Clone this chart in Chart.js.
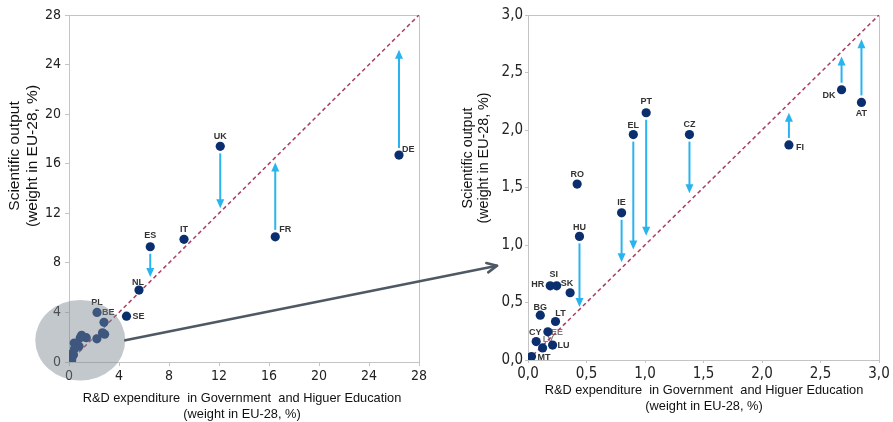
<!DOCTYPE html>
<html><head><meta charset="utf-8">
<script src="https://cdn.jsdelivr.net/npm/chart.js@4"></script>
<style>
html,body{margin:0;padding:0;background:#fff;}
#wrap{position:relative;width:893px;height:422px;overflow:hidden;}
canvas{position:absolute;left:0;top:0;}
</style></head><body>
<div id="wrap"><canvas id="left" width="893" height="422"></canvas><canvas id="right" width="893" height="422"></canvas></div>
<script>
// ---- data ----
const countries = ['DE','UK','FR','IT','ES','NL','SE','PL','BE','AT','DK','FI','CZ','PT','EL','RO','IE','HU','SK','SI','HR','BG','LT','EE','CY','LU','LV','MT'];
const rdShare  = [26.4,12.1,16.5,9.2,6.5,5.6,4.6,2.24,2.8, 2.85,2.68,2.23,1.38,1.01,0.90,0.42,0.80,0.44,0.36,0.245,0.19,0.105,0.235,0.17,0.07,0.21,0.125,0.03];
const sciShare = [16.7,17.4,10.1,9.9,9.3,5.8,3.7,4.0,3.2, 2.24,2.35,1.87,1.96,2.15,1.96,1.53,1.28,1.075,0.585,0.645,0.645,0.39,0.335,0.245,0.16,0.13,0.105,0.03];
const arrowTo  = [25.2,12.4,16.1,null,6.85,null,null,null,null, 2.79,2.64,2.15,1.45,1.08,0.96,null,0.85,0.46,null,null,null,null,null,null,null,null,null,null];
const leftTicks = [0,4,8,12,16,20,24,28];
const rightTicks = [0,0.5,1,1.5,2,2.5,3];
const rightTickLabels = ['0,0','0,5','1,0','1,5','2,0','2,5','3,0'];
const yTitle = ['Scientific output','(weight in EU-28, %)'];
const xTitle = ['R&D expenditure  in Government  and Higuer Education','(weight in EU-28, %)'];

// ---- styles ----
const NAVY='#0b2f6e', ARROW='#2ab4ef', DIAG='#a83e62', FRAME='#c4c4c4';
const narrow = "'Liberation Sans Narrow','Arial Narrow','DejaVu Sans Condensed',sans-serif";
const sans = "'Liberation Sans',Arial,sans-serif";
const labelPlace = {
  DE:{dx:3,dy:-6,al:'left'}, UK:{dx:0,dy:-10,al:'center'}, FR:{dx:4,dy:-7,al:'left'},
  IT:{dx:0,dy:-10,al:'center'}, ES:{dx:0,dy:-11,al:'center'}, NL:{dx:-1,dy:-8,al:'center'},
  SE:{dx:6,dy:0,al:'left'}, PL:{dx:0,dy:-10,al:'center'}, BE:{dx:-2,dy:-10,al:'left'},
  RO:{dx:0,dy:-10,al:'center'}, EL:{dx:0,dy:-9,al:'center'}, PT:{dx:0,dy:-11,al:'center'},
  CZ:{dx:0,dy:-10,al:'center'}, FI:{dx:7,dy:3,al:'left'}, DK:{dx:-6,dy:6,al:'right'},
  AT:{dx:0,dy:11,al:'center'}, IE:{dx:0,dy:-10,al:'center'}, HU:{dx:0,dy:-9,al:'center'},
  HR:{dx:-6,dy:-1,al:'right'}, SI:{dx:-3,dy:-11,al:'center'}, SK:{dx:-3,dy:-9,al:'center'},
  BG:{dx:0,dy:-8,al:'center'}, LT:{dx:5,dy:-8,al:'center'}, EE:{dx:3,dy:1,al:'left',c:'#7d7d7d'},
  CY:{dx:-1,dy:-9,al:'center'}, LV:{dx:0,dy:-8,al:'left',c:'#7d7d7d'}, LU:{dx:5,dy:0,al:'left'},
  MT:{dx:6,dy:1,al:'left'}
};

const allIdx = countries.map((_,i)=>i);
const insetIdx = allIdx.filter(i=>rdShare[i]<=3 && sciShare[i]<=3);
const bigIdx = allIdx.filter(i=>!insetIdx.includes(i));
const toPts = idx => idx.map(i=>({x:rdShare[i], y:sciShare[i], c:countries[i], a:arrowTo[i]}));

function drawArrow(ctx, x, y0, y1){
  const dir = y1 < y0 ? -1 : 1;
  ctx.save();
  ctx.strokeStyle=ARROW; ctx.fillStyle=ARROW; ctx.lineWidth=2;
  ctx.beginPath(); ctx.moveTo(x, y0+dir*7); ctx.lineTo(x, y1-dir*6); ctx.stroke();
  ctx.beginPath(); ctx.moveTo(x,y1); ctx.lineTo(x-4,y1-dir*9); ctx.lineTo(x+4,y1-dir*9); ctx.closePath(); ctx.fill();
  ctx.restore();
}

function makePlugin(opts){
  return {
    id:'deco'+opts.name,
    beforeDatasetsDraw(chart){
      const {ctx, chartArea:a, scales:{x,y}} = chart;
      ctx.save();
      ctx.strokeStyle=FRAME; ctx.lineWidth=1;
      ctx.beginPath();
      ctx.moveTo(a.left, a.top+0.5); ctx.lineTo(a.right+0.5, a.top+0.5); ctx.lineTo(a.right+0.5, a.bottom);
      ctx.stroke();
      ctx.restore();
      const pts = chart.data.datasets[0].data;
      ctx.save();
      ctx.font = "bold 9px "+sans;
      ctx.textBaseline='middle';
      pts.forEach(p=>{
        const L = labelPlace[p.c];
        if(!L || !opts.show.has(p.c)) return;
        ctx.fillStyle = L.c || '#333';
        ctx.textAlign = L.al;
        ctx.fillText(p.c, x.getPixelForValue(p.x)+L.dx, y.getPixelForValue(p.y)+L.dy);
      });
      ctx.restore();
      pts.forEach(p=>{
        if(p.a==null || !opts.show.has(p.c)) return;
        drawArrow(ctx, x.getPixelForValue(p.x), y.getPixelForValue(p.y), y.getPixelForValue(p.a));
      });
    },
    afterDraw(chart){
      const ctx = chart.ctx;
      ctx.save();
      ctx.fillStyle='#111';
      ctx.textAlign='center'; ctx.textBaseline='middle';
      ctx.font = opts.yFont+"px "+sans;
      ctx.save();
      ctx.translate(opts.yT[0], opts.yT[2]); ctx.rotate(-Math.PI/2);
      ctx.fillText(yTitle[0],0,0);
      ctx.restore();
      ctx.save();
      ctx.translate(opts.yT[1], opts.yT[2]); ctx.rotate(-Math.PI/2);
      ctx.fillText(yTitle[1],0,0);
      ctx.restore();
      ctx.font = "12.8px "+sans;
      ctx.fillText(xTitle[0], opts.xT[0], opts.xT[1]);
      ctx.fillText(xTitle[1], opts.xT[0], opts.xT[2]);
      ctx.restore();
      if(opts.after) opts.after(chart);
    }
  };
}

function axis(kind, ticks, labels, fontSize, fit, pad, tl){
  return {
    type:'linear', min:ticks[0], max:ticks[ticks.length-1],
    afterBuildTicks:s=>{ s.ticks = ticks.map(v=>({value:v})); },
    ticks:{ font:{family:narrow,size:fontSize}, color:'#222', padding:pad,
      callback:v=>{ const k=ticks.indexOf(v); return k<0?'':labels[k]; } },
    grid:{ drawOnChartArea:false, drawTicks:true, tickLength:tl, color:FRAME },
    border:{ color:FRAME },
    afterFit: kind==='x' ? (s=>{s.height=fit;}) : (s=>{s.width=fit;})
  };
}

function baseDatasets(idx, maxV){
  return [
    { data: toPts(idx), backgroundColor:NAVY, borderWidth:0, pointRadius:4.6, pointHoverRadius:4.6 },
    { data:[{x:0,y:0},{x:maxV,y:maxV}], showLine:true, borderColor:DIAG, borderWidth:1.5, borderDash:[4,3], pointRadius:0, fill:false }
  ];
}

const common = { responsive:false, animation:false, devicePixelRatio:1,
  plugins:{legend:{display:false}, tooltip:{enabled:false}}, events:[] };

// ---- left chart ----
const ellipse = {cx:0.9, cy:1.75, rx:3.6, ry:3.25};
const leftChart = new Chart(document.getElementById('left'), {
  type:'scatter',
  data:{ datasets: baseDatasets(allIdx, 28) },
  options:{ ...common,
    layout:{padding:{left:0,right:474,top:15,bottom:0}},
    scales:{
      x: axis('x', leftTicks, leftTicks.map(String), 14, 60, 2, 4),
      y: axis('y', leftTicks, leftTicks.map(String), 14, 69, 4, 4)
    }
  },
  plugins:[makePlugin({name:'L', show:new Set(bigIdx.map(i=>countries[i])), yFont:15.5, yT:[15,33,156], xT:[242,398,414],
    after(chart){
      const {ctx, scales:{x,y}} = chart;
      const cx=x.getPixelForValue(ellipse.cx), cy=y.getPixelForValue(ellipse.cy);
      const rx=x.getPixelForValue(ellipse.rx)-x.getPixelForValue(0), ry=y.getPixelForValue(0)-y.getPixelForValue(ellipse.ry);
      ctx.save();
      ctx.fillStyle='rgba(125,136,146,0.46)';
      ctx.beginPath(); ctx.ellipse(cx,cy,rx,ry,0,0,Math.PI*2); ctx.fill();
      ctx.restore();
    }})]
});

// ---- right chart ----
const rightChart = new Chart(document.getElementById('right'), {
  type:'scatter',
  data:{ datasets: baseDatasets(insetIdx, 3) },
  options:{ ...common,
    layout:{padding:{left:0,right:14,top:15,bottom:0}},
    scales:{
      x: axis('x', rightTicks, rightTickLabels, 15, 62, 2, 3),
      y: axis('y', rightTicks, rightTickLabels, 15, 528, 2, 3)
    }
  },
  plugins:[makePlugin({name:'R', show:new Set(insetIdx.map(i=>countries[i])), yFont:14.3, yT:[468,484,158], xT:[704,390,406],
    after(chart){
      const {ctx, chartArea:a, scales:{y}} = chart;
      const lx = leftChart.scales.x, ly = leftChart.scales.y;
      const sx = lx.getPixelForValue(ellipse.cx+ellipse.rx), sy = ly.getPixelForValue(ellipse.cy);
      const ex = a.left-31, ey = y.getPixelForValue(0.82);
      const ang = Math.atan2(ey-sy, ex-sx);
      ctx.save();
      ctx.strokeStyle='#4f5963'; ctx.lineWidth=2.6; ctx.lineCap='round'; ctx.lineJoin='round';
      ctx.beginPath(); ctx.moveTo(sx,sy); ctx.lineTo(ex,ey); ctx.stroke();
      ctx.beginPath();
      ctx.moveTo(ex-11*Math.cos(ang-0.45), ey-11*Math.sin(ang-0.45));
      ctx.lineTo(ex,ey);
      ctx.lineTo(ex-11*Math.cos(ang+0.45), ey-11*Math.sin(ang+0.45));
      ctx.stroke();
      ctx.restore();
    }})]
});
</script>
</body></html>
